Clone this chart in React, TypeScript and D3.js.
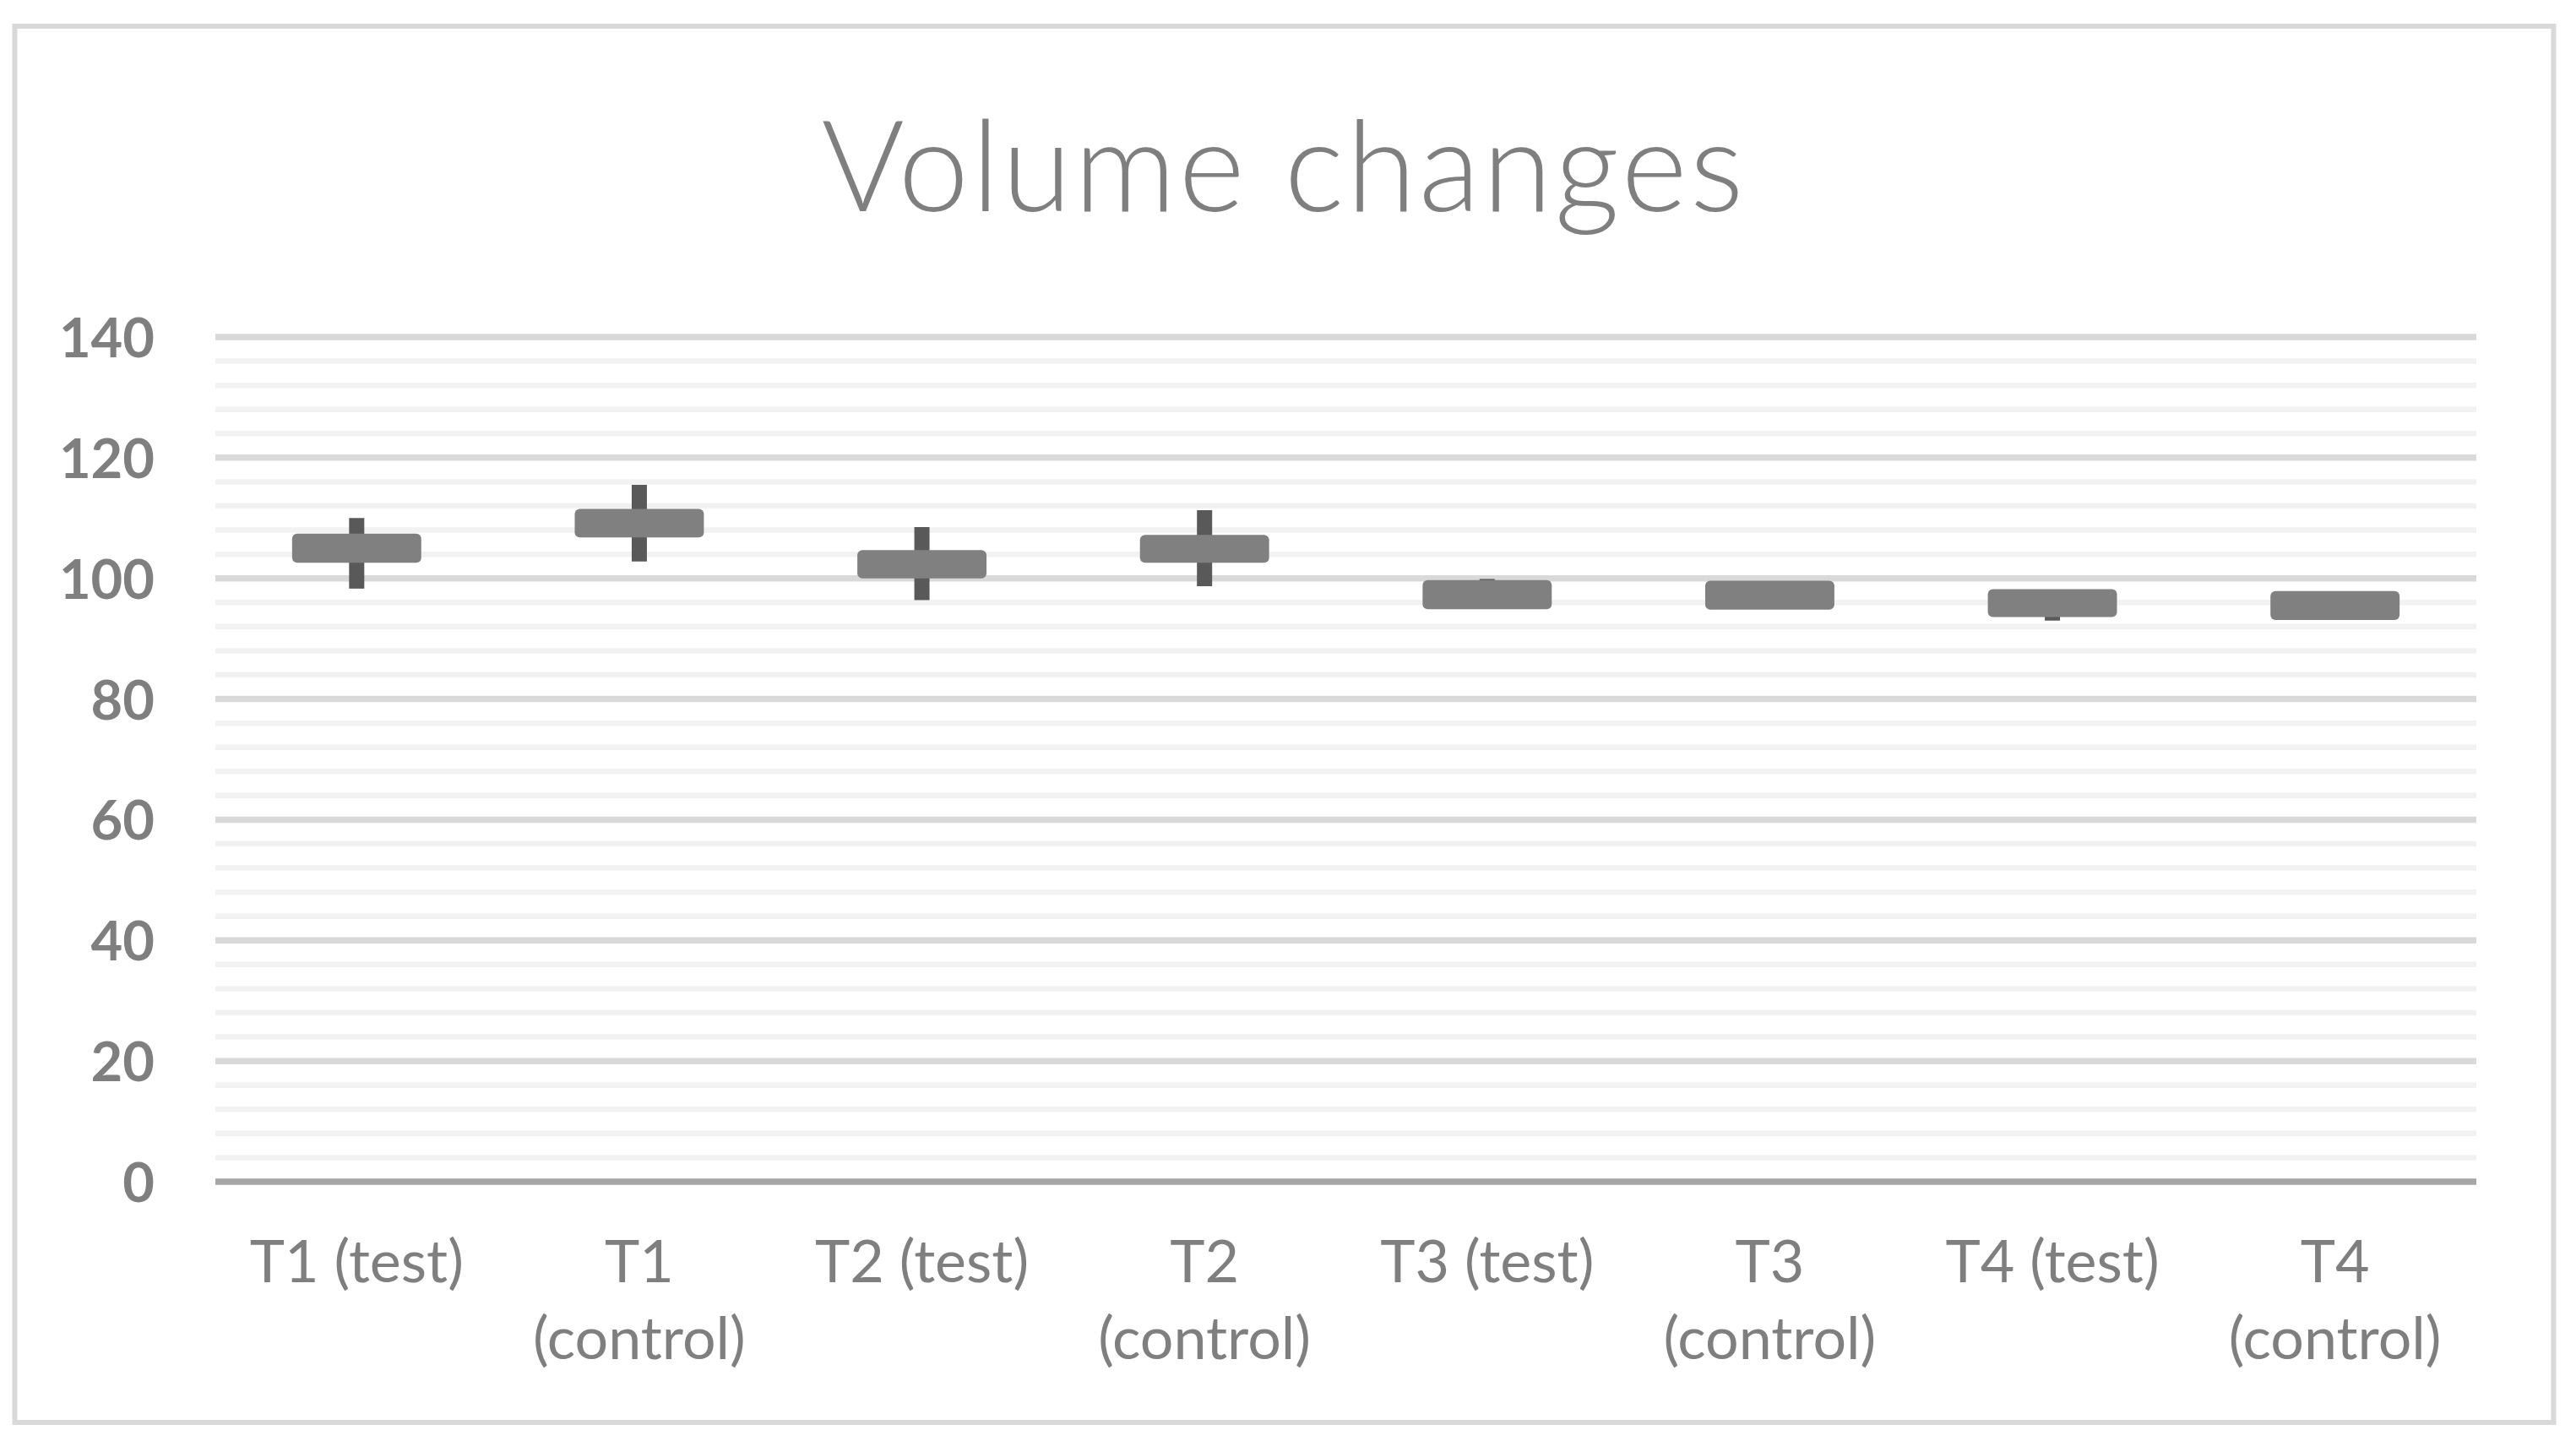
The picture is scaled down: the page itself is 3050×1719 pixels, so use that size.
import React from "react";
import * as d3 from "d3";

const categories = [
  "T1 (test)",
  "T1 (control)",
  "T2 (test)",
  "T2 (control)",
  "T3 (test)",
  "T3 (control)",
  "T4 (test)",
  "T4 (control)",
];
const highValues = [110.0, 115.5, 108.5, 111.3, 99.9, 99.0, 97.0, 97.0];
const boxTopValues = [107.4, 111.5, 104.7, 107.2, 99.7, 99.6, 98.2, 97.9];
const boxBottomValues = [102.6, 106.8, 100.0, 102.6, 94.9, 94.8, 93.6, 93.1];
const lowValues = [98.3, 102.8, 96.4, 98.7, 96.0, 96.0, 93.0, 94.0];
const yTicks = [0, 20, 40, 60, 80, 100, 120, 140];
const title = "Volume changes";

const W = 3050;
const H = 1719;
const TEXT = "#7f7f7f";

function splitLabel(s: string): string[] {
  if (s.length > 10) {
    const i = s.indexOf(" ");
    return [s.slice(0, i), s.slice(i + 1)];
  }
  return [s];
}

export default function App() {
  const x = d3.scaleBand<string>().domain(categories).range([255, 2932]);
  const y = d3.scaleLinear().domain([0, 140]).range([1399, 399]);
  const bw = x.bandwidth();
  const boxW = bw * 0.457;
  const minorTicks = d3.range(4, 140, 4).filter((v) => v % 20 !== 0);
  const majorTicks = yTicks.filter((v) => v !== 0);
  const [x0, x1] = x.range();

  return (
    <svg
      width={W}
      height={H}
      style={{ position: "absolute", left: 0, top: 0, background: "#fff" }}
      fontFamily="Lato, 'Open Sans', sans-serif"
    >
      <rect x={0} y={0} width={W} height={H} fill="#fff" />
      <rect
        x={17.5}
        y={31}
        width={3006}
        height={1653}
        fill="#fff"
        stroke="#d9d9d9"
        strokeWidth={6}
      />
      <text
        x={1520}
        y={250}
        textAnchor="middle"
        fontSize={150}
        fontWeight={300}
        letterSpacing={3}
        fill={TEXT}
      >
        {title}
      </text>

      {minorTicks.map((v) => (
        <line key={"mi" + v} x1={x0} x2={x1} y1={y(v)} y2={y(v)} stroke="#f2f2f2" strokeWidth={6.5} />
      ))}
      {majorTicks.map((v) => (
        <line key={"ma" + v} x1={x0} x2={x1} y1={y(v)} y2={y(v)} stroke="#d9d9d9" strokeWidth={7.5} />
      ))}
      <line x1={x0} x2={x1} y1={y(0)} y2={y(0)} stroke="#a6a6a6" strokeWidth={7.5} />

      {yTicks.map((v) => (
        <text
          key={"yt" + v}
          x={183}
          y={y(v) + 24}
          textAnchor="end"
          fontSize={65}
          fontWeight={700}
          fill={TEXT}
        >
          {v}
        </text>
      ))}

      {categories.map((c, i) => {
        const cx = (x(c) as number) + bw / 2;
        return (
          <g key={c}>
            <rect
              x={cx - 9}
              y={y(highValues[i])}
              width={18}
              height={y(lowValues[i]) - y(highValues[i])}
              fill="#595959"
            />
            <rect
              x={cx - boxW / 2}
              y={y(boxTopValues[i])}
              width={boxW}
              height={y(boxBottomValues[i]) - y(boxTopValues[i])}
              rx={6}
              fill="#808080"
            />
          </g>
        );
      })}

      {categories.map((c) => {
        const cx = (x(c) as number) + bw / 2;
        const lines = splitLabel(c);
        return (
          <text key={"xl" + c} textAnchor="middle" fontSize={70} fill={TEXT}>
            {lines.map((l, j) => (
              <tspan key={j} x={cx} y={1518 + j * 91}>
                {l}
              </tspan>
            ))}
          </text>
        );
      })}
    </svg>
  );
}
